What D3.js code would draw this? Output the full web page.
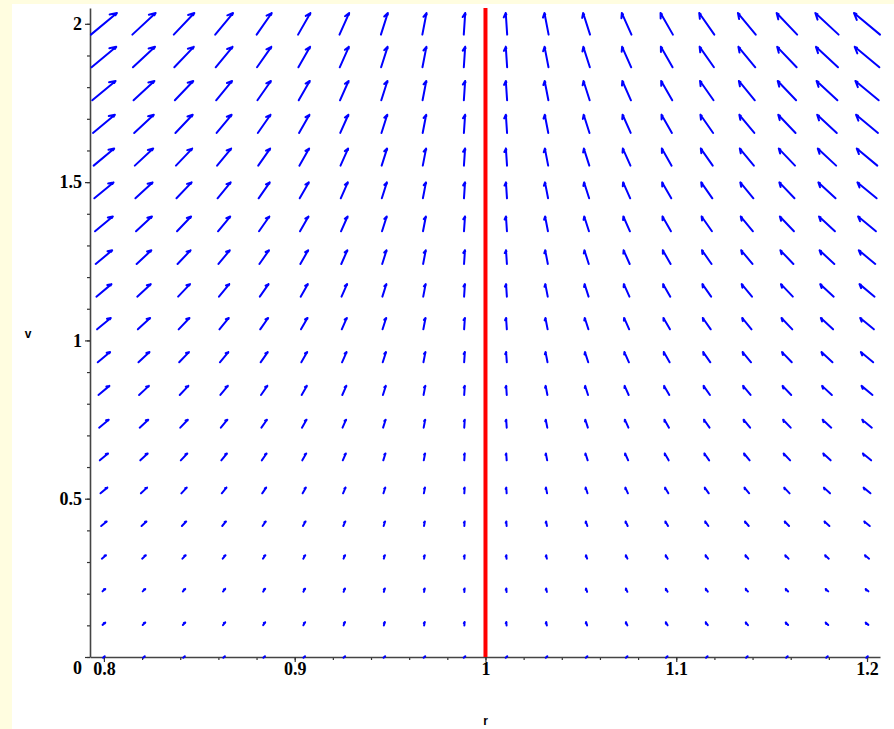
<!DOCTYPE html>
<html>
<head>
<meta charset="utf-8">
<script src="https://cdn.jsdelivr.net/npm/d3@7"></script>
<style>
  body { margin: 0; background: #fff; }
  svg { display: block; }
</style>
</head>
<body>
<div id="chart"></div>
<script>
// grid of the field plot (r across, v up)
var rGrid = [0.8, 0.821, 0.842, 0.863, 0.884, 0.905, 0.926, 0.947, 0.968, 0.989,
             1.011, 1.032, 1.053, 1.074, 1.095, 1.116, 1.137, 1.158, 1.179, 1.2];
var vGrid = [0, 0.105, 0.211, 0.316, 0.421, 0.526, 0.632, 0.737, 0.842, 0.947,
             1.053, 1.158, 1.263, 1.368, 1.474, 1.579, 1.684, 1.789, 1.895, 2];
// arrow components: sideways lean per column, rise per row
var leanByColumn = [0.2, 0.179, 0.158, 0.137, 0.116, 0.095, 0.074, 0.053, 0.032, 0.011,
                    -0.011, -0.032, -0.053, -0.074, -0.095, -0.116, -0.137, -0.158, -0.179, -0.2];
var riseByRow = [0, 0.105, 0.211, 0.316, 0.421, 0.526, 0.632, 0.737, 0.842, 0.947,
                 1.053, 1.158, 1.263, 1.368, 1.474, 1.579, 1.684, 1.789, 1.895, 2];
var xTicks = [0.8, 0.9, 1, 1.1, 1.2];
var xMinor = [0.8, 0.82, 0.84, 0.86, 0.88, 0.9, 0.92, 0.94, 0.96, 0.98, 1, 1.02, 1.04, 1.06, 1.08,
              1.1, 1.12, 1.14, 1.16, 1.18, 1.2];
var yTicks = [0, 0.5, 1, 1.5, 2];
var yMinor = [0, 0.1, 0.2, 0.3, 0.4, 0.5, 0.6, 0.7, 0.8, 0.9, 1, 1.1, 1.2, 1.3, 1.4, 1.5,
              1.6, 1.7, 1.8, 1.9, 2];
var equilibrium = [1];

var W = 894, H = 729;
var svg = d3.select("#chart").append("svg")
    .attr("width", W)
    .attr("height", H);

// pale yellow border strips
svg.append("rect").attr("x", 0).attr("y", 0).attr("width", 12).attr("height", H).attr("fill", "#fffde0");
svg.append("rect").attr("x", 0).attr("y", 0).attr("width", W).attr("height", 4).attr("fill", "#fffde0");

var x = d3.scaleLinear().domain([0.7927, 1.2068]).range([90, 880]);
var y = d3.scaleLinear().domain([0, 2.05]).range([657, 8]);

var fontFam = "'Liberation Serif', 'Times New Roman', serif";

// minor ticks
svg.append("g")
    .attr("transform", "translate(0,657)")
    .call(d3.axisBottom(x).tickValues(xMinor).tickSize(3).tickSizeOuter(0).tickFormat(""))
    .call(function(g) { g.select(".domain").remove(); })
    .selectAll("line").attr("stroke", "#333").attr("stroke-width", 1.2);
svg.append("g")
    .attr("transform", "translate(90,0)")
    .call(d3.axisLeft(y).tickValues(yMinor).tickSize(3).tickSizeOuter(0).tickFormat(""))
    .call(function(g) { g.select(".domain").remove(); })
    .selectAll("line").attr("stroke", "#333").attr("stroke-width", 1.2);

// main axes
var xAxis = svg.append("g")
    .attr("transform", "translate(0,657)")
    .call(d3.axisBottom(x).tickValues(xTicks).tickSize(5).tickSizeOuter(0).tickPadding(0)
      .tickFormat(function(d) { return d3.format("")(d); }));
var yAxis = svg.append("g")
    .attr("transform", "translate(90,0)")
    .call(d3.axisLeft(y).tickValues(yTicks).tickSize(5).tickSizeOuter(0).tickPadding(3)
      .tickFormat(function(d) { return d3.format("")(d); }));

[xAxis, yAxis].forEach(function(g) {
  g.select(".domain").attr("stroke", "#444").attr("stroke-width", 1.6);
  g.selectAll(".tick line").attr("stroke", "#333").attr("stroke-width", 1.2);
  g.selectAll("text")
    .attr("fill", "#000")
    .style("font-family", fontFam)
    .style("font-weight", "bold")
    .style("font-size", "18px");
});
yAxis.selectAll(".tick text").filter(function(d) { return d === 0; }).attr("dy", "0.9em");

// axis titles
svg.append("text")
    .attr("x", x(1)).attr("y", 725)
    .attr("text-anchor", "middle")
    .style("font-family", "'Liberation Sans', Arial, sans-serif").style("font-weight", "bold").style("font-size", "12px")
    .text("r");
svg.append("text")
    .attr("x", 28).attr("y", 338)
    .attr("text-anchor", "middle")
    .style("font-family", "'Liberation Sans', Arial, sans-serif").style("font-weight", "bold").style("font-size", "12px")
    .text("v");

// field arrows
var scale = 0.0341;
var cells = [];
rGrid.forEach(function(r, i) {
  vGrid.forEach(function(v, j) {
    cells.push({r: r, v: v, du: leanByColumn[i] * riseByRow[j], dv: riseByRow[j]});
  });
});

var arrows = svg.append("g")
    .attr("stroke", "#0000ff")
    .attr("fill", "none")
    .attr("stroke-linecap", "round")
    .attr("stroke-linejoin", "round");

cells.forEach(function(c) {
  var x0 = x(c.r - 0.5 * scale * c.du), y0 = y(c.v - 0.5 * scale * c.dv);
  var x1 = x(c.r + 0.5 * scale * c.du), y1 = y(c.v + 0.5 * scale * c.dv);
  var dx = x1 - x0, dy = y1 - y0;
  var L = Math.sqrt(dx * dx + dy * dy);
  if (L < 0.5) {
    arrows.append("line")
      .attr("x1", x0 - 0.8).attr("y1", y0 + 0.8)
      .attr("x2", x0 + 0.8).attr("y2", y0 - 0.8)
      .attr("stroke-width", 2);
    return;
  }
  var ux = dx / L, uy = dy / L;
  // small arrows stay visible as short dashes
  if (L < 3.5) {
    var cx = (x0 + x1) / 2, cy = (y0 + y1) / 2;
    L = 3.5;
    x0 = cx - ux * L / 2; y0 = cy - uy * L / 2;
    x1 = cx + ux * L / 2; y1 = cy + uy * L / 2;
  }
  var bx = -ux, by = -uy;      // backwards
  var lx = uy, ly = -ux;       // left side of the direction on screen
  var h = Math.max(0.22 * L, 1.5);
  var a = 0.5, aR = 0.3;
  var pL = [x1 + h * (Math.cos(a) * bx + Math.sin(a) * lx), y1 + h * (Math.cos(a) * by + Math.sin(a) * ly)];
  var pR = [x1 + 0.35 * h * (Math.cos(aR) * bx - Math.sin(aR) * lx), y1 + 0.35 * h * (Math.cos(aR) * by - Math.sin(aR) * ly)];
  arrows.append("path")
    .attr("d", "M" + x0 + "," + y0 + "L" + x1 + "," + y1 +
               "M" + pL[0] + "," + pL[1] + "L" + x1 + "," + y1 + "L" + pR[0] + "," + pR[1])
    .attr("stroke-width", 2);
});

// red vertical line at r = 1
svg.selectAll(".eq")
  .data(equilibrium)
  .enter()
  .append("line")
    .attr("x1", function(d) { return x(d); })
    .attr("x2", function(d) { return x(d); })
    .attr("y1", y(0))
    .attr("y2", y(2.05))
    .attr("stroke", "#ff0000")
    .attr("stroke-width", 4);
</script>
</body>
</html>
